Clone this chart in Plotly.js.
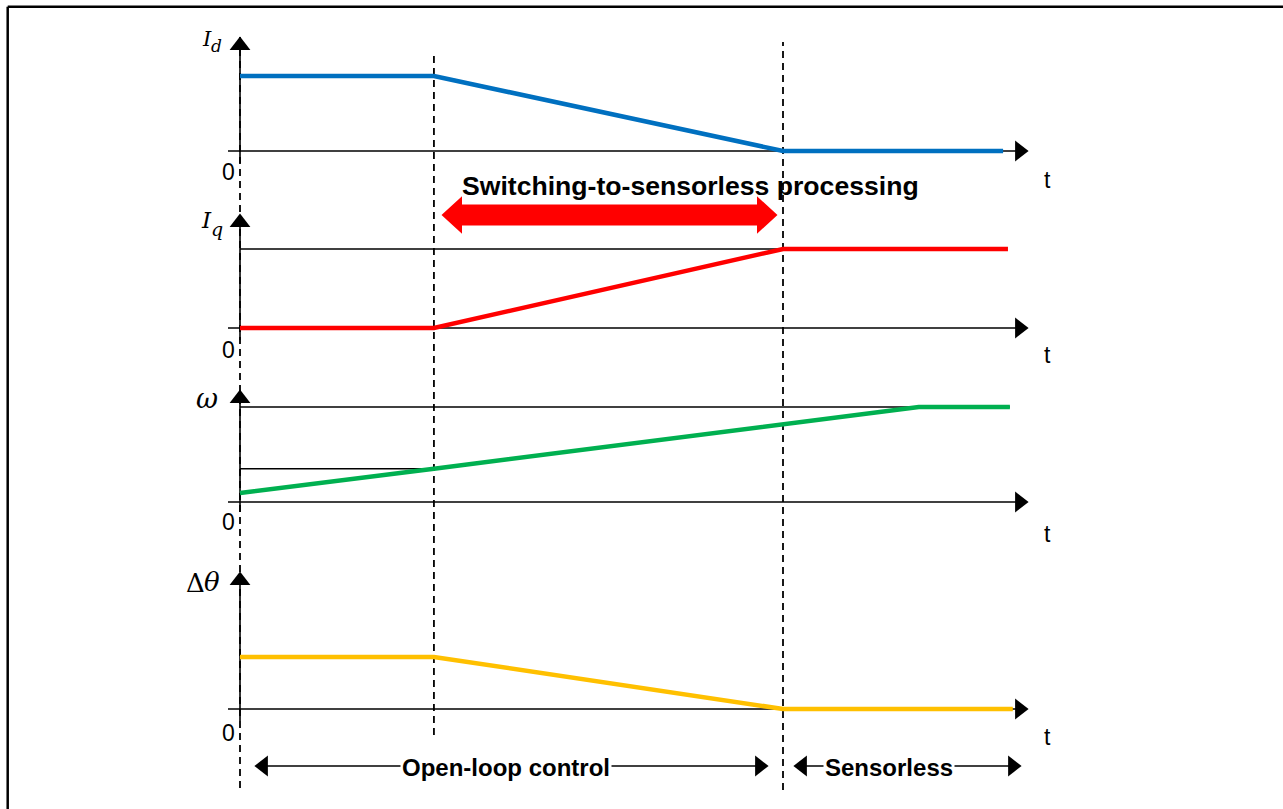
<!DOCTYPE html>
<html><head><meta charset="utf-8">
<script src="https://cdn.plot.ly/plotly-3.0.1.min.js"></script>
<style>html,body{margin:0;padding:0;background:#fff;overflow:hidden}#chart{width:1283px;height:809px}</style>
</head><body><div id="chart"></div>
<script>
// ---------- data (time in arbitrary units, levels normalised) ----------
const tId  = [0, 10, 28, 39.35];
const Id   = [1, 1, 0, 0];
const tIq  = [0, 10, 28, 39.6];
const Iq   = [0, 0, 1, 1];
const tW   = [0, 10, 35, 39.7];
const W    = [0.095, 0.35, 1, 1];
const tDth = [0, 10, 28, 39.85];
const Dth  = [1, 1, 0, 0];
const eventTimes = [0, 10, 28];            // dashed phase boundaries
const wRefLevels = [0.35, 1];              // thin reference lines on ω
const iqRefLevel = 1;                      // thin reference line on Iq
// axis label pieces: [main symbol, subscript / second symbol]
const axisLabels = [['I', 'd'], ['I', 'q'], ['ω', ''], ['Δ', 'θ']];
const zeroLabel = '0';
const timeLabel = 't';
const phaseTitle = 'Switching-to-sensorless processing';
const phaseLabels = ['Open-loop control', 'Sensorless'];

// ---------- geometry ----------
const WPX = 1283, HPX = 809, X0 = 240, K = 19.393;
const tx = px => (px - X0) / K;
const panels = [
  {ax:'y',  base:151, unit:75, tip:35,  bottom:163, zeroY:172, tY:180, color:'#0070C0', t:tId,  v:Id,
   lab:[{x:207, y:39, fs:21, st:'italic'}, {x:216.5, y:46, fs:17, st:'italic'}]},
  {ax:'y2', base:328, unit:79, tip:212, bottom:340, zeroY:350, tY:355, color:'#FF0000', t:tIq,  v:Iq,
   lab:[{x:206, y:220, fs:23, st:'italic'}, {x:216.5, y:229, fs:19, st:'italic'}]},
  {ax:'y3', base:502, unit:95, tip:388, bottom:512, zeroY:522, tY:534, color:'#00B050', t:tW,   v:W,
   lab:[{x:207, y:398, fs:27, st:'italic'}, null]},
  {ax:'y4', base:709, unit:52, tip:570, bottom:721, zeroY:733, tY:737, color:'#FFC000', t:tDth, v:Dth,
   lab:[{x:195, y:583, fs:26, st:'normal'}, {x:211.5, y:582, fs:26, st:'italic'}]}
];
const vy = (p, px) => (p.base - px) / p.unit;
const axName = a => a === 'y' ? 'yaxis' : 'yaxis' + a.slice(1);
const HEAD = 18, HOFF = 10.4;

const traces = [];
const annotations = [];
const shapes = [];

// frame
shapes.push({type:'line', xref:'paper', yref:'paper', x0:7.7/WPX, x1:1, y0:1-6.7/HPX, y1:1-6.7/HPX, line:{color:'#000', width:2.5}});
shapes.push({type:'line', xref:'paper', yref:'paper', x0:7.7/WPX, x1:7.7/WPX, y0:0, y1:1-6.7/HPX, line:{color:'#000', width:2.5}});

// dashed event lines
const dashSpan = [[35, 788], [55, 735], [42, 790]];
eventTimes.forEach((t, i) => shapes.push({type:'line', layer:'below', xref:'x', yref:'paper', x0:t, x1:t,
  y0:1-dashSpan[i][1]/HPX, y1:1-dashSpan[i][0]/HPX, line:{color:'#000', width:1.8, dash:'7px,5px'}}));

const blk = {color:'#000', width:1.6};
panels.forEach((p, i) => {
  // axes
  traces.push({x:[0,0], y:[vy(p,p.bottom), vy(p,p.tip+HOFF)], yaxis:p.ax, mode:'lines', line:blk, hoverinfo:'skip'});
  traces.push({x:[tx(228), tx(1030-HOFF)], y:[0,0], yaxis:p.ax, mode:'lines', line:blk, hoverinfo:'skip'});
  traces.push({x:[0, tx(1030-HOFF)], y:[vy(p,p.tip+HOFF), 0], yaxis:p.ax, mode:'markers',
    marker:{symbol:['triangle-up','triangle-right'], size:HEAD, color:'#000', line:{width:0}}, hoverinfo:'skip'});
  annotations.push({x:tx(228), y:vy(p,p.zeroY), xref:'x', yref:p.ax, text:zeroLabel, showarrow:false,
    xanchor:'center', yanchor:'middle', font:{family:'Liberation Sans, Arial', size:23, color:'#000'}});
  annotations.push({x:tx(1047), y:vy(p,p.tY), xref:'x', yref:p.ax, text:timeLabel, showarrow:false,
    xanchor:'center', yanchor:'middle', font:{family:'Liberation Sans, Arial', size:23, color:'#000'}});
  p.lab.forEach((L, j) => {
    if (!L || !axisLabels[i][j]) return;
    annotations.push({x:tx(L.x), y:vy(p,L.y), xref:'x', yref:p.ax, text:axisLabels[i][j], showarrow:false,
      xanchor:'center', yanchor:'middle', font:{family:'DejaVu Serif', size:L.fs, style:L.st, color:'#000'}});
  });
});

// reference lines
traces.push({x:[0, tIq[2]], y:[iqRefLevel, iqRefLevel], yaxis:'y2', mode:'lines', line:blk, hoverinfo:'skip'});
traces.push({x:[0, tW[1]], y:[wRefLevels[0], wRefLevels[0]], yaxis:'y3', mode:'lines', line:blk, hoverinfo:'skip'});
traces.push({x:[0, tW[3]], y:[wRefLevels[1], wRefLevels[1]], yaxis:'y3', mode:'lines', line:blk, hoverinfo:'skip'});

// data series
panels.forEach(p => traces.push({x:p.t, y:p.v, yaxis:p.ax, mode:'lines', line:{color:p.color, width:4.5}, hoverinfo:'skip'}));

// red double arrow (switching phase)
{
  const p = panels[1];
  const cy = 215, bh = 9.5, hh = 16.5, hl = 18, xa = 443, xb = 776;
  const P = (x, y) => tx(x) + ',' + vy(p, y);
  const path = 'M' + P(xa, cy) + ' L' + P(xa+hl, cy-hh) + ' L' + P(xa+hl, cy-bh) + ' L' + P(xb-hl, cy-bh) +
    ' L' + P(xb-hl, cy-hh) + ' L' + P(xb, cy) + ' L' + P(xb-hl, cy+hh) + ' L' + P(xb-hl, cy+bh) +
    ' L' + P(xa+hl, cy+bh) + ' L' + P(xa+hl, cy+hh) + ' Z';
  shapes.push({type:'path', xref:'x', yref:'y2', path:path, fillcolor:'#FF0000', line:{color:'#FF0000', width:2}});
  annotations.push({x:tx(690.5), y:vy(p,186), xref:'x', yref:'y2', text:'<b>'+phaseTitle+'</b>', showarrow:false,
    xanchor:'center', yanchor:'middle', font:{family:'Liberation Sans, Arial', size:26.6, color:'#000'}});
}

// bottom phase arrows
{
  const p = panels[3];
  const by = 766;
  const spans = [[253, 770, 506], [792, 1023, 889]];
  spans.forEach((s, i) => {
    traces.push({x:[tx(s[0]+HOFF), tx(s[1]-HOFF)], y:[vy(p,by), vy(p,by)], yaxis:'y4', mode:'lines', line:blk, hoverinfo:'skip'});
    traces.push({x:[tx(s[0]+HOFF), tx(s[1]-HOFF)], y:[vy(p,by), vy(p,by)], yaxis:'y4', mode:'markers',
      marker:{symbol:['triangle-left','triangle-right'], size:HEAD, color:'#000', line:{width:0}}, hoverinfo:'skip'});
    annotations.push({x:tx(s[2]), y:vy(p,by+1), xref:'x', yref:'y4', text:'<b>'+phaseLabels[i]+'</b>', showarrow:false,
      xanchor:'center', yanchor:'middle', bgcolor:'#fff', borderpad:1,
      font:{family:'Liberation Sans, Arial', size:24, color:'#000'}});
  });
}

const layout = {
  width:WPX, height:HPX, margin:{l:0, r:0, t:0, b:0}, showlegend:false,
  paper_bgcolor:'#fff', plot_bgcolor:'#fff',
  xaxis:{range:[tx(0), tx(WPX)], visible:false, fixedrange:true},
  shapes:shapes, annotations:annotations
};
panels.forEach((p, i) => {
  const a = {range:[vy(p,HPX), vy(p,0)], visible:false, fixedrange:true};
  if (i > 0) { a.overlaying = 'y'; a.anchor = 'x'; }
  layout[axName(p.ax)] = a;
});

Plotly.newPlot('chart', traces, layout, {staticPlot:true, displayModeBar:false});
</script></body></html>
